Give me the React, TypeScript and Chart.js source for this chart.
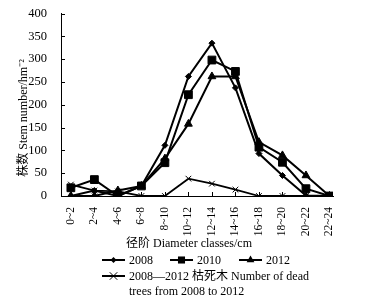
import React, { useEffect, useRef } from "react";
import { Chart, registerables } from "chart.js";

Chart.register(...registerables);

const categories = ["0~2", "2~4", "4~6", "6~8", "8~10", "10~12", "12~14", "14~16", "16~18", "18~20", "20~22", "22~24"];
const series2008 = [0, 12, 0, 22, 111, 262, 335, 237, 93, 45, 1, 0];
const series2010 = [18, 36, 0, 22, 73, 222, 298, 273, 107, 74, 16, 0];
const series2012 = [0, 0, 12, 22, 82, 158, 262, 262, 118, 89, 45, 0];
const deadTrees = [25, 12, 10, 0, 0, 38, 27, 14, 0, 0, 0, 0];

const yTitle = "株数 Stem number/hm⁻²";
const xTitle = "径阶 Diameter classes/cm";
const legendNames = ["2008", "2010", "2012"];
const deadLegendLines = ["2008—2012 枯死木 Number of dead", "trees from 2008 to 2012"];

const FONT = "'Liberation Serif', 'Times New Roman', 'Noto Sans CJK SC', serif";

function drawMarker(ctx: CanvasRenderingContext2D, style: string, x: number, y: number, r: number) {
  ctx.beginPath();
  if (style === "rect") {
    const s = r / Math.SQRT2;
    ctx.rect(x - s, y - s, 2 * s, 2 * s);
    ctx.fill();
  } else if (style === "rectRot") {
    ctx.moveTo(x, y - r);
    ctx.lineTo(x + r, y);
    ctx.lineTo(x, y + r);
    ctx.lineTo(x - r, y);
    ctx.closePath();
    ctx.fill();
  } else if (style === "triangle") {
    const h = r * 1.5;
    ctx.moveTo(x, y - r);
    ctx.lineTo(x + h * 0.577, y + r * 0.5);
    ctx.lineTo(x - h * 0.577, y + r * 0.5);
    ctx.closePath();
    ctx.fill();
  } else if (style === "crossRot") {
    const s = r * 0.75;
    ctx.lineWidth = 1;
    ctx.moveTo(x - s, y - s);
    ctx.lineTo(x + s, y + s);
    ctx.moveTo(x + s, y - s);
    ctx.lineTo(x - s, y + s);
    ctx.stroke();
  }
}

const decorPlugin = {
  id: "decor",
  afterDraw(chart: any) {
    const ctx: CanvasRenderingContext2D = chart.ctx;
    const area = chart.chartArea;
    const xs = chart.scales.x;
    const ys = chart.scales.y;
    ctx.save();
    ctx.strokeStyle = "#000";
    ctx.fillStyle = "#000";
    ctx.lineWidth = 1;
    // inward ticks
    ctx.beginPath();
    ys.ticks.forEach((t: any) => {
      const py = Math.round(ys.getPixelForValue(t.value)) + 0.5;
      ctx.moveTo(area.left, py);
      ctx.lineTo(area.left + 4, py);
    });
    categories.forEach((_, i) => {
      const px = Math.round(xs.getPixelForValue(i)) + 0.5;
      ctx.moveTo(px, area.bottom);
      ctx.lineTo(px, area.bottom - 4);
    });
    ctx.stroke();

    // y title
    ctx.save();
    ctx.translate(24, 118);
    ctx.rotate(-Math.PI / 2);
    ctx.font = `12px ${FONT}`;
    ctx.textAlign = "center";
    ctx.textBaseline = "middle";
    ctx.fillText(yTitle, 0, 0);
    ctx.restore();

    // x title
    ctx.font = `12px ${FONT}`;
    ctx.textAlign = "center";
    ctx.textBaseline = "middle";
    ctx.fillText(xTitle, 189, 244);

    // legend
    const styles = ["rectRot", "rect", "triangle"];
    const radii = [3, 5, 4.5];
    const starts = [102, 170, 239];
    ctx.textAlign = "left";
    ctx.font = `12px ${FONT}`;
    legendNames.forEach((name, i) => {
      const y = 260;
      ctx.lineWidth = 2;
      ctx.beginPath();
      ctx.moveTo(starts[i], y);
      ctx.lineTo(starts[i] + 23, y);
      ctx.stroke();
      drawMarker(ctx, styles[i], starts[i] + 11.5, y, radii[i]);
      ctx.fillText(name, starts[i] + 27, y + 1);
    });
    ctx.lineWidth = 2;
    ctx.beginPath();
    ctx.moveTo(102, 276);
    ctx.lineTo(125, 276);
    ctx.stroke();
    drawMarker(ctx, "crossRot", 113.5, 276, 5);
    ctx.fillText(deadLegendLines[0], 129, 277);
    ctx.fillText(deadLegendLines[1], 129, 292);
    ctx.restore();
  },
};

export default function App() {
  const ref = useRef<HTMLCanvasElement | null>(null);
  useEffect(() => {
    document.body.style.margin = "0";
    if (!ref.current) return;
    const mk = (data: number[], style: string, radius: number, width: number) => ({
      data: data.map((v, i) => ({ x: i, y: v })),
      borderColor: "#000",
      backgroundColor: "#000",
      borderWidth: width,
      pointStyle: style,
      pointRadius: radius,
      pointBorderWidth: 1,
      pointBackgroundColor: "#000",
      pointBorderColor: "#000",
      tension: 0,
      fill: false,
    });
    const chart = new Chart(ref.current, {
      type: "line",
      data: {
        datasets: [
          mk(deadTrees, "crossRot", 4, 1.8),
          mk(series2012, "triangle", 4.5, 2),
          mk(series2010, "rect", 5.5, 2),
          mk(series2008, "rectRot", 3, 2),
        ] as any,
      },
      options: {
        animation: false,
        responsive: false,
        layout: { padding: { top: 12, right: 35, left: 0, bottom: 0 } },
        plugins: { legend: { display: false }, tooltip: { enabled: false } },
        scales: {
          x: {
            type: "linear",
            min: -0.42,
            max: 11.15,
            afterBuildTicks: (s: any) => {
              s.ticks = categories.map((_, i) => ({ value: i }));
            },
            afterFit: (s: any) => {
              s.height = 107;
            },
            ticks: {
              callback: (v: any) => categories[Math.round(Number(v))] ?? "",
              autoSkip: false,
              maxRotation: 90,
              minRotation: 90,
              padding: 3,
              color: "#000",
              font: { family: FONT, size: 11.5 },
            },
            grid: { display: false },
            border: { display: true, color: "#000", width: 1 },
          },
          y: {
            min: 0,
            max: 400,
            afterFit: (s: any) => {
              s.width = 61;
            },
            ticks: {
              stepSize: 50,
              padding: 6,
              color: "#000",
              font: { family: FONT, size: 12.5 },
            },
            grid: { display: false },
            border: { display: true, color: "#000", width: 1 },
          },
        },
      },
      plugins: [decorPlugin],
    });
    return () => chart.destroy();
  }, []);
  return (
    <div style={{ width: 368, height: 303, background: "#fff" }}>
      <canvas ref={ref} width={368} height={303} style={{ display: "block" }} />
    </div>
  );
}
